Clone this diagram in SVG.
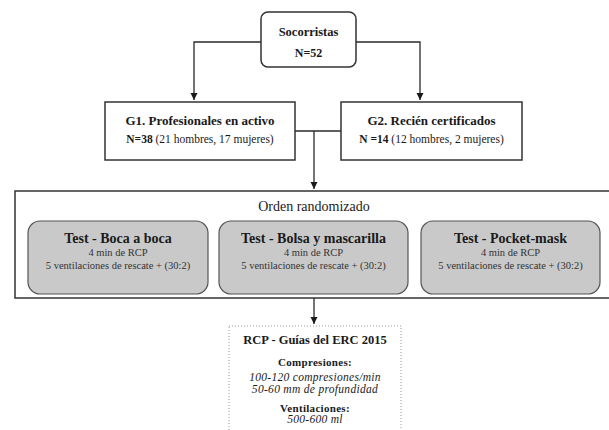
<svg xmlns="http://www.w3.org/2000/svg" width="609" height="430" viewBox="0 0 609 430">
  <style>
    text { font-family: "Liberation Serif", "Times New Roman", serif; fill: #1a1a1a; text-anchor: middle; }
    .b { font-weight: bold; }
    .i { font-style: italic; }
    .box { fill: #ffffff; stroke: #333333; stroke-width: 1.5; }
    .test { fill: #c9c9c9; stroke: #555555; stroke-width: 1.2; }
    .sub { fill: #333333; font-size: 10.5px; }
    .wire { fill: none; stroke: #2a2a2a; stroke-width: 1.3; }
  </style>
  <defs>
    <marker id="arrow" markerWidth="8" markerHeight="8" refX="7" refY="4" orient="auto" markerUnits="userSpaceOnUse">
      <path d="M0,0.5 L7,4 L0,7.5 Z" fill="#1a1a1a"/>
    </marker>
  </defs>

  <g id="connectors">
    <path class="wire" d="M261,42 H194 V100" marker-end="url(#arrow)"/>
    <path class="wire" d="M356,42 H420 V100" marker-end="url(#arrow)"/>
    <path class="wire" d="M295,131 H341"/>
    <path class="wire" d="M314,131 V189" marker-end="url(#arrow)"/>
    <path class="wire" d="M314,298 V324" marker-end="url(#arrow)"/>
  </g>

  <g id="socorristas">
    <rect class="box" x="261" y="12" width="95" height="55" rx="7"/>
    <text class="b" x="308.5" y="36" font-size="12.5">Socorristas</text>
    <text class="b" x="308.5" y="57" font-size="12">N=52</text>
  </g>

  <g id="g1">
    <rect class="box" x="105" y="102" width="190" height="58"/>
    <text class="b" x="200" y="125" font-size="13">G1. Profesionales en activo</text>
    <text x="200" y="143" font-size="11.5"><tspan class="b">N=38</tspan> (21 hombres, 17 mujeres)</text>
  </g>

  <g id="g2">
    <rect class="box" x="341" y="102" width="181" height="58"/>
    <text class="b" x="431.5" y="125" font-size="13">G2. Recién certificados</text>
    <text x="431.5" y="143" font-size="11.5"><tspan class="b">N =14</tspan> (12 hombres, 2 mujeres)</text>
  </g>

  <g id="orden">
    <rect class="box" x="15" y="191" width="600" height="107"/>
    <text x="314" y="211" font-size="14">Orden randomizado</text>
  </g>

  <g id="test-boca">
    <rect class="test" x="28" y="221" width="180" height="73" rx="12"/>
    <text class="b" x="118" y="243" font-size="14">Test - Boca a boca</text>
    <text class="sub" x="118" y="256" font-size="11">4 min de RCP</text>
    <text class="sub" x="118" y="269">5 ventilaciones de rescate + (30:2)</text>
  </g>

  <g id="test-bolsa">
    <rect class="test" x="219" y="221" width="189" height="73" rx="12"/>
    <text class="b" x="313.5" y="243" font-size="14">Test - Bolsa y mascarilla</text>
    <text class="sub" x="313.5" y="256" font-size="11">4 min de RCP</text>
    <text class="sub" x="313.5" y="269">5 ventilaciones de rescate + (30:2)</text>
  </g>

  <g id="test-pocket">
    <rect class="test" x="421" y="221" width="179" height="73" rx="12"/>
    <text class="b" x="510.5" y="243" font-size="14">Test - Pocket-mask</text>
    <text class="sub" x="510.5" y="256" font-size="11">4 min de RCP</text>
    <text class="sub" x="510.5" y="269">5 ventilaciones de rescate + (30:2)</text>
  </g>

  <g id="guias">
    <rect x="229" y="326" width="172" height="120" fill="#ffffff" stroke="#9a9a9a" stroke-width="1" stroke-dasharray="1,2"/>
    <text class="b" x="315" y="344" font-size="12.5">RCP - Guías del ERC 2015</text>
    <text class="b" x="315" y="366" font-size="11" letter-spacing="0.3">Compresiones:</text>
    <text class="i" x="315" y="381" font-size="11.5" letter-spacing="0.3">100-120 compresiones/min</text>
    <text class="i" x="315" y="393" font-size="11.5" letter-spacing="0.3">50-60 mm de profundidad</text>
    <text class="b" x="315" y="412" font-size="11" letter-spacing="0.3">Ventilaciones:</text>
    <text class="i" x="315" y="423" font-size="11.5" letter-spacing="0.3">500-600 ml</text>
  </g>
</svg>
